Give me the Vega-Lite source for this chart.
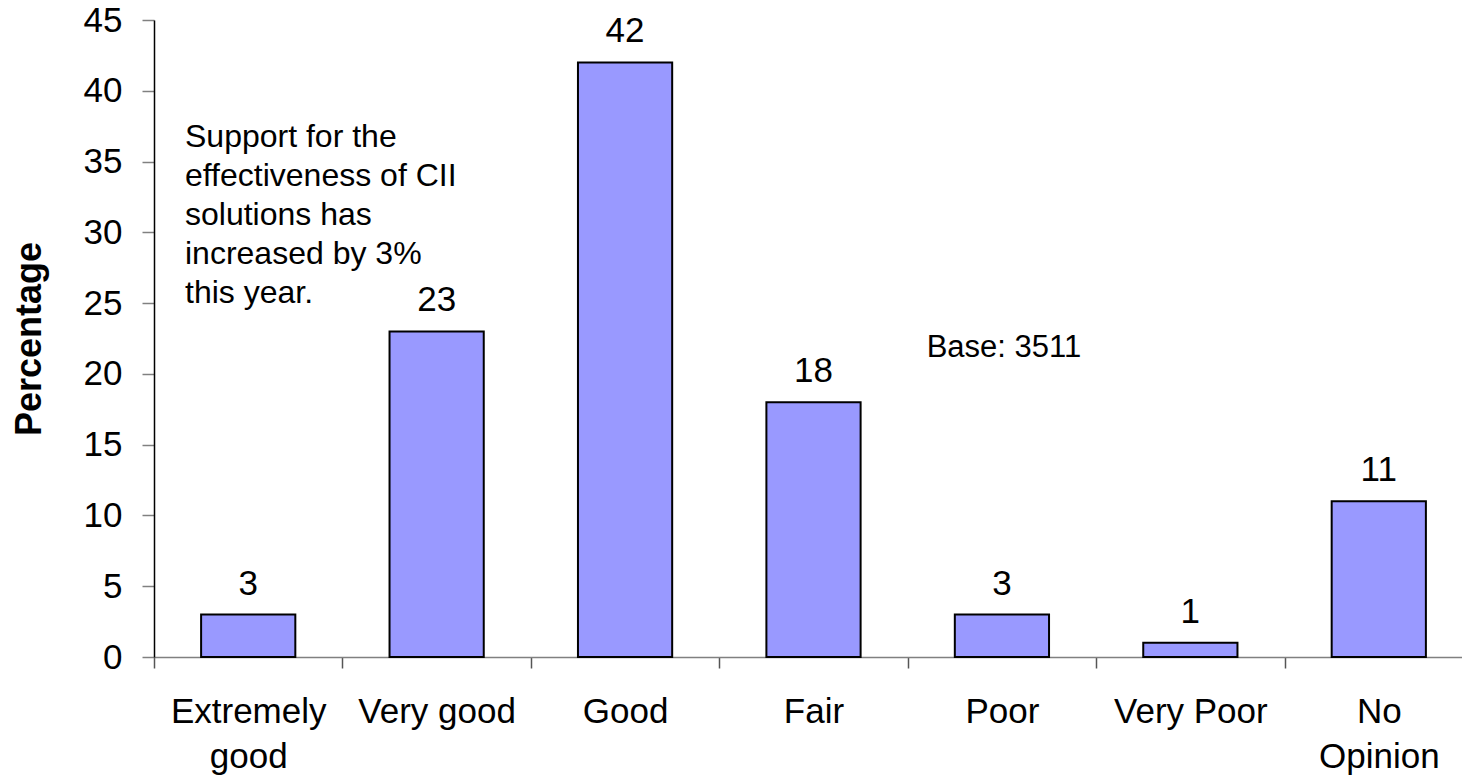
{
  "$schema": "https://vega.github.io/schema/vega-lite/v6.json",
  "autosize": {"type": "none"},
  "padding": {"left": 154, "top": 20, "right": 0, "bottom": 120},
  "width": 1308,
  "height": 637,
  "background": "white",
  "config": {"view": {"stroke": null}, "font": "Liberation Sans"},
  "datasets": {
    "ratings": [
      {"rating": "Extremely good", "pct": 3},
      {"rating": "Very good", "pct": 23},
      {"rating": "Good", "pct": 42},
      {"rating": "Fair", "pct": 18},
      {"rating": "Poor", "pct": 3},
      {"rating": "Very Poor", "pct": 1},
      {"rating": "No Opinion", "pct": 11}
    ],
    "notes": [
      {"rating": "Extremely good", "pct": 36, "note": "Support for the\neffectiveness of CII\nsolutions has\nincreased by 3%\nthis year."}
    ],
    "base": [
      {"rating": "Poor", "pct": 21.2, "note": "Base: 3511"}
    ]
  },
  "layer": [
    {
      "data": {"name": "ratings"},
      "mark": {"type": "bar", "fill": "#9999FF", "stroke": "#000000", "strokeWidth": 2, "width": {"band": 0.5}},
      "encoding": {
        "x": {
          "field": "rating", "type": "nominal",
          "scale": {
            "domain": ["Extremely good", "Very good", "Good", "Fair", "Poor", "Very Poor", "No Opinion"],
            "range": [0, 1319], "paddingInner": 0, "paddingOuter": 0
          },
          "axis": {
            "title": null, "grid": false, "labelAngle": 0,
            "domainColor": "#808080", "domainWidth": 1.5,
            "tickColor": "#555555", "tickSize": 11, "tickWidth": 1.5, "tickBand": "extent",
            "labelFontSize": 35, "labelColor": "#000000", "labelPadding": 26,
            "labelLineHeight": 45, "labelLimit": 400,
            "labelExpr": "datum.label == 'Extremely good' ? ['Extremely', 'good'] : datum.label == 'No Opinion' ? ['No', 'Opinion'] : datum.label"
          }
        },
        "y": {
          "field": "pct", "type": "quantitative",
          "scale": {"domain": [0, 45], "nice": false},
          "axis": {
            "title": "Percentage", "titleFontSize": 36, "titleFontWeight": "bold",
            "titleColor": "#000000", "titlePadding": 35,
            "values": [0, 5, 10, 15, 20, 25, 30, 35, 40, 45],
            "grid": false, "domainColor": "#000000", "domainWidth": 1.5,
            "tickColor": "#808080", "tickSize": 12, "tickWidth": 1.5,
            "labelFontSize": 35, "labelColor": "#000000", "labelPadding": 20
          }
        }
      }
    },
    {
      "data": {"name": "ratings"},
      "mark": {"type": "text", "fontSize": 35, "baseline": "alphabetic", "dy": -20, "color": "#000000"},
      "encoding": {
        "x": {"field": "rating", "type": "nominal"},
        "y": {"field": "pct", "type": "quantitative"},
        "text": {"field": "pct", "type": "quantitative"}
      }
    },
    {
      "data": {"name": "notes"},
      "mark": {"type": "text", "fontSize": 32, "align": "left", "baseline": "alphabetic", "lineBreak": "\n", "lineHeight": 39, "dx": 31, "color": "#000000"},
      "encoding": {
        "x": {"field": "rating", "type": "nominal", "bandPosition": 0},
        "y": {"field": "pct", "type": "quantitative"},
        "text": {"field": "note", "type": "nominal"}
      }
    },
    {
      "data": {"name": "base"},
      "mark": {"type": "text", "fontSize": 31, "align": "center", "baseline": "alphabetic", "dx": 2, "color": "#000000"},
      "encoding": {
        "x": {"field": "rating", "type": "nominal"},
        "y": {"field": "pct", "type": "quantitative"},
        "text": {"field": "note", "type": "nominal"}
      }
    }
  ]
}
